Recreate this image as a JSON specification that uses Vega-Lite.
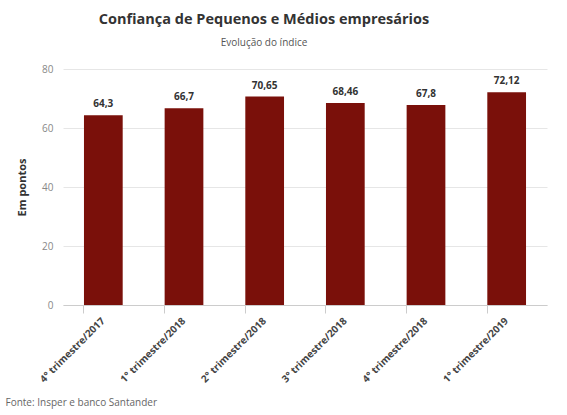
{
  "$schema": "https://vega.github.io/schema/vega-lite/v6.json",
  "width": 484,
  "height": 236,
  "autosize": "none",
  "padding": {"left": 63, "top": 69, "right": 20, "bottom": 110},
  "background": "white",
  "title": {
    "text": "Confiança de Pequenos e Médios empresários",
    "subtitle": "Evolução do índice",
    "anchor": "middle",
    "dx": -41,
    "offset": 15,
    "font": "Open Sans",
    "fontSize": 14.5,
    "fontWeight": "bold",
    "color": "#333333",
    "subtitleFont": "Open Sans",
    "subtitleFontSize": 10,
    "subtitleColor": "#555555",
    "subtitlePadding": 11
  },
  "config": {
    "locale": {"number": {"decimal": ",", "thousands": ".", "grouping": [3], "currency": ["R$", ""]}},
    "view": {"stroke": null}
  },
  "data": {
    "values": [
      {"periodo": "4° trimestre/2017", "valor": 64.3},
      {"periodo": "1° trimestre/2018", "valor": 66.7},
      {"periodo": "2° trimestre/2018", "valor": 70.65},
      {"periodo": "3° trimestre/2018", "valor": 68.46},
      {"periodo": "4° trimestre/2018", "valor": 67.8},
      {"periodo": "1° trimestre/2019", "valor": 72.12}
    ]
  },
  "encoding": {
    "x": {
      "field": "periodo",
      "type": "nominal",
      "sort": null,
      "scale": {"paddingInner": 0.52, "paddingOuter": 0.26},
      "axis": {
        "title": "Fonte: Insper e banco Santander",
        "titleX": -58,
        "titleY": 97,
        "titleAlign": "left",
        "titleAnchor": null,
        "titleBaseline": "middle",
        "titleFont": "Open Sans",
        "titleFontSize": 10,
        "titleFontWeight": "normal",
        "titleColor": "#666666",
        "labelAngle": -45,
        "labelAlign": "right",
        "labelBaseline": "middle",
        "labelFont": "Open Sans",
        "labelFontSize": 10,
        "labelFontWeight": "bold",
        "labelColor": "#444444",
        "labelPadding": 6,
        "bandPosition": 0,
        "tickColor": "#cccccc",
        "tickSize": 8,
        "domainColor": "#cccccc",
        "grid": false
      }
    },
    "y": {
      "field": "valor",
      "type": "quantitative",
      "scale": {"domain": [0, 80]},
      "axis": {
        "title": "Em pontos",
        "titleFont": "Open Sans",
        "titleFontSize": 11,
        "titleFontWeight": "bold",
        "titleColor": "#333333",
        "titlePadding": 14,
        "values": [0, 20, 40, 60, 80],
        "labelFont": "Open Sans",
        "labelFontSize": 10,
        "labelColor": "#888888",
        "labelPadding": 10,
        "ticks": false,
        "domain": false,
        "gridColor": "#e6e6e6"
      }
    }
  },
  "layer": [
    {"mark": {"type": "bar", "color": "#7a100a"}},
    {
      "mark": {"type": "text", "dy": -11, "font": "Open Sans", "fontSize": 10, "fontWeight": "bold", "color": "#333333"},
      "encoding": {"text": {"field": "valor", "type": "quantitative", "format": "~f"}}
    }
  ]
}
